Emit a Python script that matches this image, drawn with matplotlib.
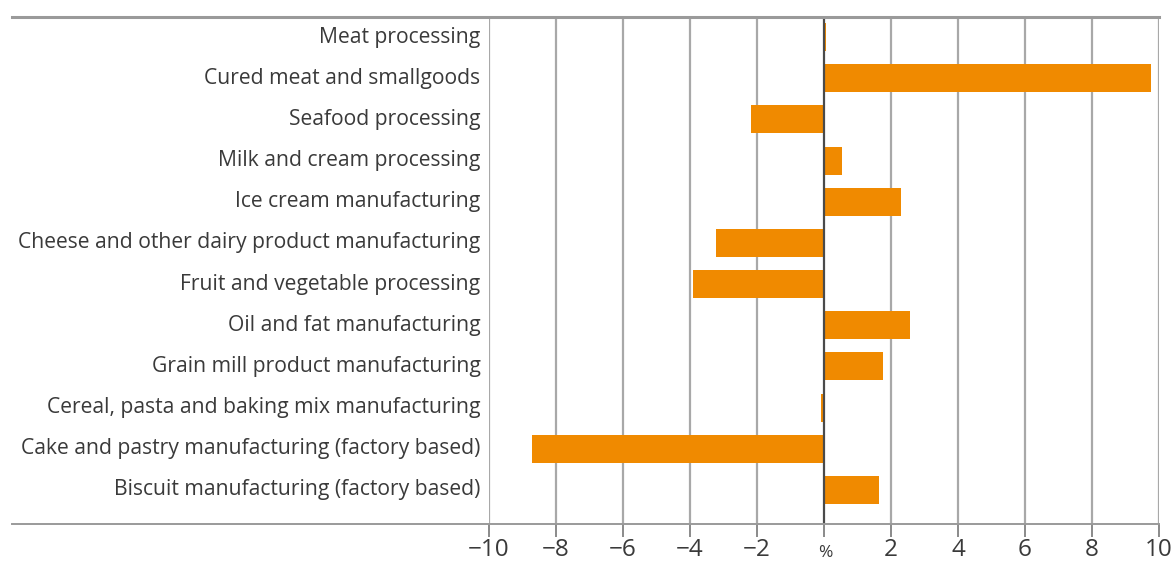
import matplotlib
matplotlib.use("Agg")
import matplotlib.pyplot as plt
from matplotlib.lines import Line2D

categories = [
    "Meat processing",
    "Cured meat and smallgoods",
    "Seafood processing",
    "Milk and cream processing",
    "Ice cream manufacturing",
    "Cheese and other dairy product manufacturing",
    "Fruit and vegetable processing",
    "Oil and fat manufacturing",
    "Grain mill product manufacturing",
    "Cereal, pasta and baking mix manufacturing",
    "Cake and pastry manufacturing (factory based)",
    "Biscuit manufacturing (factory based)",
]
values = [0.05, 9.77, -2.18, 0.54, 2.29, -3.22, -3.9, 2.57, 1.77, -0.1, -8.73, 1.64]
x_ticks = [-10, -8, -6, -4, -2, 0, 2, 4, 6, 8, 10]
x_tick_labels = ["\u221210", "\u22128", "\u22126", "\u22124", "\u22122", "", "2", "4", "6", "8", "10"]
unit_label = "%"

W, H = 1174, 563
fig = plt.figure(figsize=(W / 100, H / 100), dpi=100)
ax = fig.add_axes([489 / W, 1 - 524 / H, (1159 - 489) / W, (524 - 17) / H])

text_color = "#3a3a3a"
grid_color = "#a8a8a8"
bar_color = "#f08a00"
font = "Open Sans"

pos = list(range(len(categories)))
ax.barh(pos, values, height=0.68, color=bar_color, zorder=3)

ax.set_xlim(-10, 10)
ax.set_ylim(11.83, -0.49)

for t in x_ticks:
    ax.axvline(t, color="#4a4a4a" if t == 0 else grid_color,
               lw=1.6, zorder=2 if t != 0 else 4)

for s in ax.spines.values():
    s.set_visible(False)

ax.set_yticks([])
ax.set_xticks(x_ticks)
ax.set_xticklabels(x_tick_labels, fontsize=17.5, color=text_color, fontfamily=font)
ax.tick_params(axis="x", length=9, width=1.4, color="#8a8a8a", pad=1)
for t, tick in zip(x_ticks, ax.xaxis.get_major_ticks()):
    if t == 0:
        tick.tick1line.set_color("#4a4a4a")

for p, name in zip(pos, categories):
    ax.text(-10.25, p, name, ha="right", va="center", fontsize=15.2,
            color=text_color, fontfamily=font)

ax.text(0.05, -29 / 507, unit_label, transform=ax.get_xaxis_transform(),
        ha="center", va="center", fontsize=12.5, color=text_color, fontfamily=font)

# full-width rules across the top and bottom of the panel
fig.add_artist(Line2D([12 / W, 1159 / W], [1 - 17 / H, 1 - 17 / H],
                      color="#9a9a9a", lw=2.2))
fig.add_artist(Line2D([12 / W, 1159 / W], [1 - 524 / H, 1 - 524 / H],
                      color="#9a9a9a", lw=1.4))

fig.savefig("out.png", dpi=100)
